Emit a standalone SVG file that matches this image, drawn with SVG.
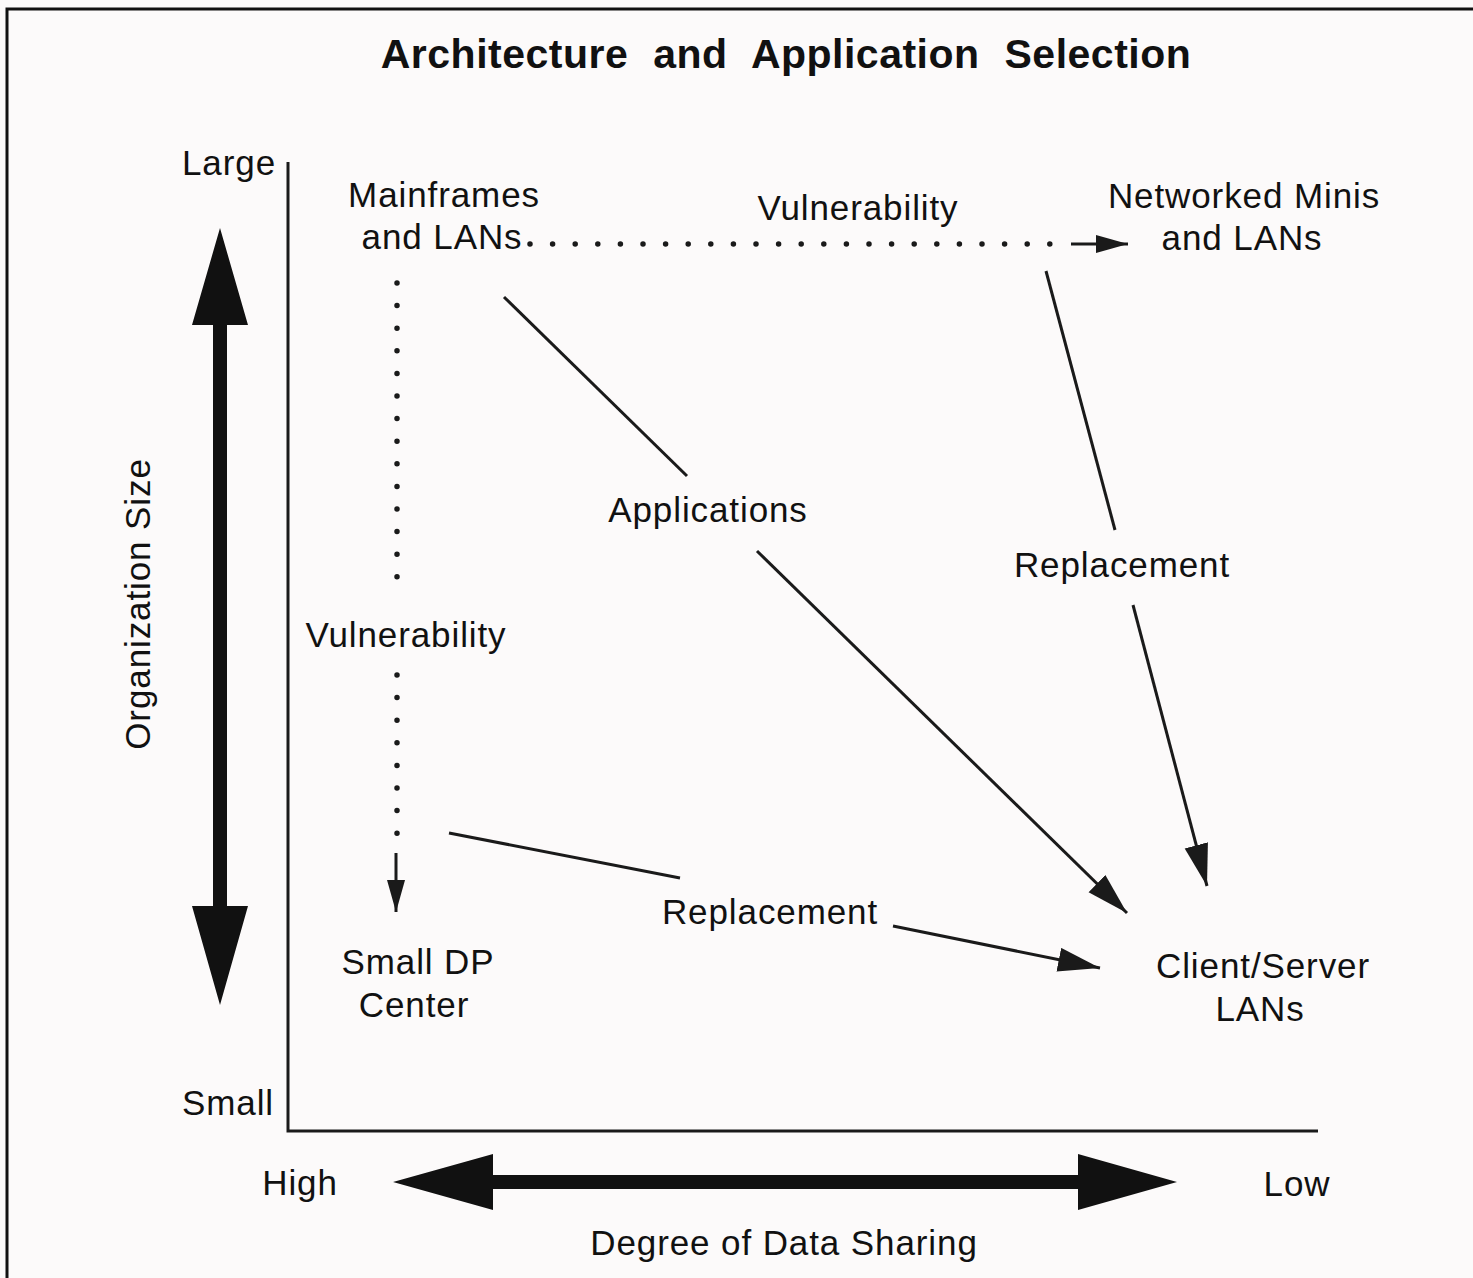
<svg xmlns="http://www.w3.org/2000/svg" width="1473" height="1278" viewBox="0 0 1473 1278">
<style>
text{font-family:"Liberation Sans",Arial,Helvetica,sans-serif;font-size:35px;fill:#111;letter-spacing:0.9px}
.title{font-weight:bold;font-size:41px;letter-spacing:0.5px;word-spacing:13px}
.ln{stroke:#1a1a1a;stroke-width:3;fill:none}
.dot{stroke:#1a1a1a;stroke-width:5.5;stroke-linecap:round;stroke-dasharray:0 22.6;fill:none}
.big{fill:#111}
</style>
<defs>
<marker id="ah" markerUnits="userSpaceOnUse" markerWidth="44" markerHeight="26" refX="42" refY="12" orient="auto" viewBox="0 0 44 26">
<path d="M0,0 L42,12 L0,24 z" fill="#1a1a1a"/>
</marker>
<marker id="ahs" markerUnits="userSpaceOnUse" markerWidth="34" markerHeight="20" refX="32" refY="9" orient="auto" viewBox="0 0 34 20">
<path d="M0,0 L32,9 L0,18 z" fill="#1a1a1a"/>
</marker>
</defs>
<rect width="1473" height="1278" fill="#fcfafa"/>
<polyline points="7,1278 7,9 1473,9" fill="none" stroke="#111" stroke-width="3"/>
<text class="title" x="786" y="68" text-anchor="middle">Architecture and Application Selection</text>
<g id="axes">
<polyline points="288,162 288,1131 1318,1131" class="ln"/>
<text x="229" y="175" text-anchor="middle">Large</text>
<text x="228" y="1115" text-anchor="middle">Small</text>
<text x="300" y="1195" text-anchor="middle">High</text>
<text x="1297" y="1196" text-anchor="middle">Low</text>
<text x="784" y="1255" text-anchor="middle">Degree of Data Sharing</text>
<text transform="translate(150,604) rotate(-90)" text-anchor="middle">Organization Size</text>
<path class="big" d="M220,228 L248,325 L227,325 L227,906 L248,906 L220,1005 L192,906 L213,906 L213,325 L192,325 Z"/>
<path class="big" d="M393,1182 L493,1154 L493,1175 L1078,1175 L1078,1154 L1177,1182 L1078,1210 L1078,1189 L493,1189 L493,1210 Z"/>
</g>
<g id="connectors">
<line class="dot" x1="530" y1="244" x2="1062" y2="244"/>
<line class="ln" x1="1071" y1="244" x2="1128" y2="244" marker-end="url(#ahs)"/>
<line class="dot" x1="397" y1="283" x2="397" y2="585"/>
<line class="dot" x1="397" y1="675" x2="397" y2="835"/>
<line class="ln" x1="396" y1="853" x2="396" y2="912" marker-end="url(#ahs)"/>
<line class="ln" x1="504" y1="297" x2="687" y2="476"/>
<line class="ln" x1="757" y1="551" x2="1127" y2="913" marker-end="url(#ah)"/>
<line class="ln" x1="1046" y1="271" x2="1115" y2="530"/>
<line class="ln" x1="1133" y1="605" x2="1207" y2="886" marker-end="url(#ah)"/>
<line class="ln" x1="449" y1="833" x2="680" y2="878"/>
<line class="ln" x1="893" y1="926" x2="1100" y2="968" marker-end="url(#ah)"/>
</g>
<g id="labels">
<text x="858" y="220" text-anchor="middle">Vulnerability</text>
<text x="708" y="522" text-anchor="middle">Applications</text>
<text x="1122" y="577" text-anchor="middle">Replacement</text>
<text x="406" y="647" text-anchor="middle">Vulnerability</text>
<text x="770" y="924" text-anchor="middle">Replacement</text>
</g>
<g id="node-mainframes">
<text x="444" y="207" text-anchor="middle">Mainframes</text>
<text x="442" y="249" text-anchor="middle">and LANs</text>
</g>
<g id="node-networked-minis">
<text x="1244" y="208" text-anchor="middle">Networked Minis</text>
<text x="1242" y="250" text-anchor="middle">and LANs</text>
</g>
<g id="node-small-dp">
<text x="418" y="974" text-anchor="middle">Small DP</text>
<text x="414" y="1017" text-anchor="middle">Center</text>
</g>
<g id="node-client-server">
<text x="1263" y="978" text-anchor="middle">Client/Server</text>
<text x="1260" y="1021" text-anchor="middle">LANs</text>
</g>
</svg>
